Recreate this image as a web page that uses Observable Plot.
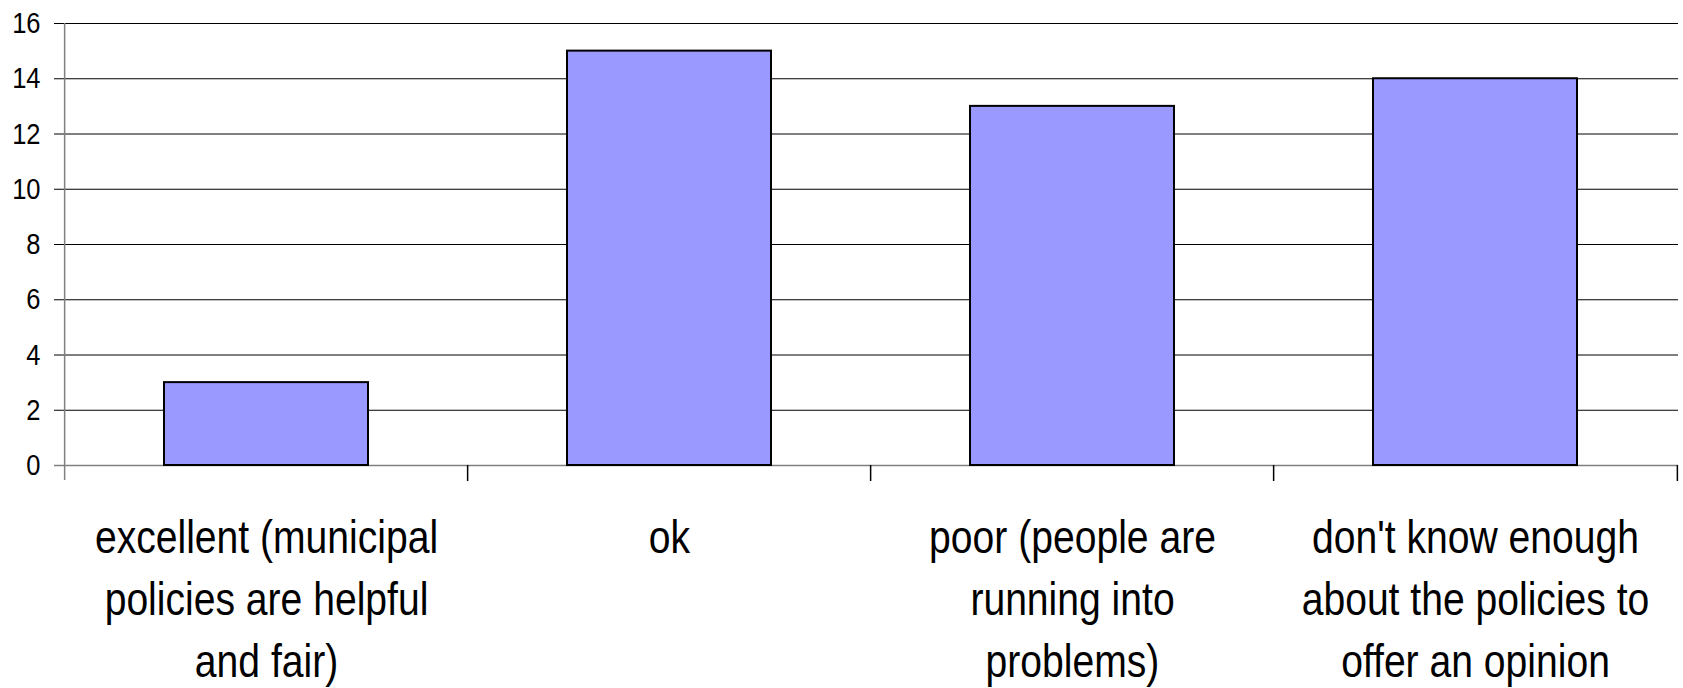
<!DOCTYPE html>
<html>
<head>
<meta charset="utf-8">
<script src="https://cdn.jsdelivr.net/npm/d3@7"></script>
<script src="https://cdn.jsdelivr.net/npm/@observablehq/plot@0.6"></script>
<style>
  html, body { margin: 0; padding: 0; background: #ffffff; }
  #chart svg { display: block; }
</style>
</head>
<body>
<div id="chart"></div>
<script>
const categories = ["excellent", "ok", "poor", "dont_know"];
const labels = [
  "excellent (municipal\npolicies are helpful\nand fair)",
  "ok",
  "poor (people are\nrunning into\nproblems)",
  "don't know enough\nabout the policies to\noffer an opinion"
];
const values = [3, 15, 13, 14];
const yTicks = [0, 2, 4, 6, 8, 10, 12, 14, 16];

const data = categories.map((c, i) => ({category: c, label: labels[i], value: values[i]}));

const width = 1683, height = 688;
const marginLeft = 63, marginRight = 5, marginTop = 23, marginBottom = 223;
const step = (width - marginLeft - marginRight) / categories.length;
const font = "'Liberation Sans', Arial, sans-serif";
const narrow = 0.85;

const chart = Plot.plot({
  width, height, marginLeft, marginRight, marginTop, marginBottom,
  style: {fontFamily: font, background: "#ffffff", color: "#000000"},
  x: {domain: categories, paddingInner: 0.493, paddingOuter: 0.2465, align: 0.5, axis: null},
  y: {domain: [0, 16], axis: null},
  marks: [
    Plot.ruleY(yTicks.filter(t => t > 0), {y: d => d, insetLeft: -9, stroke: "#000000", strokeWidth: 1}),
    Plot.ruleY([0], {y: d => d, insetLeft: -9, stroke: "#808080", strokeWidth: 1.5}),
    Plot.barY(data, {x: "category", y: "value", fill: "#9999ff", stroke: "#000000", strokeWidth: 2}),
    Plot.text(yTicks, {y: d => d, text: d => String(d), frameAnchor: "left", dx: -23, textAnchor: "end", fontSize: 30, fill: "#000000"}),
    Plot.ruleX([categories[0]], {x: d => d, dx: -step / 2, y1: () => 0, y2: () => 16, insetTop: 15, stroke: "#808080", strokeWidth: 1.5}),
    Plot.ruleX(categories.slice(1), {x: d => d, dx: -step / 2, y1: () => 0, y2: () => 0, insetBottom: -16, stroke: "#000000", strokeWidth: 1.5}),
    Plot.ruleX([categories[categories.length - 1]], {x: d => d, dx: step / 2, y1: () => 0, y2: () => 0, insetBottom: -16, stroke: "#000000", strokeWidth: 1.5}),
    Plot.text(data, {x: "category", text: "label", frameAnchor: "bottom", dy: 44, lineAnchor: "top", lineHeight: 1.34, fontSize: 46, textAnchor: "middle", fill: "#000000"})
  ]
});
// condense the glyphs horizontally (the reference uses a narrow face)
chart.querySelectorAll("text").forEach(t => {
  const tr = t.getAttribute("transform") || "";
  t.setAttribute("transform", (tr + ` scale(${narrow},1)`).trim());
});
document.getElementById("chart").appendChild(chart);
</script>
</body>
</html>
